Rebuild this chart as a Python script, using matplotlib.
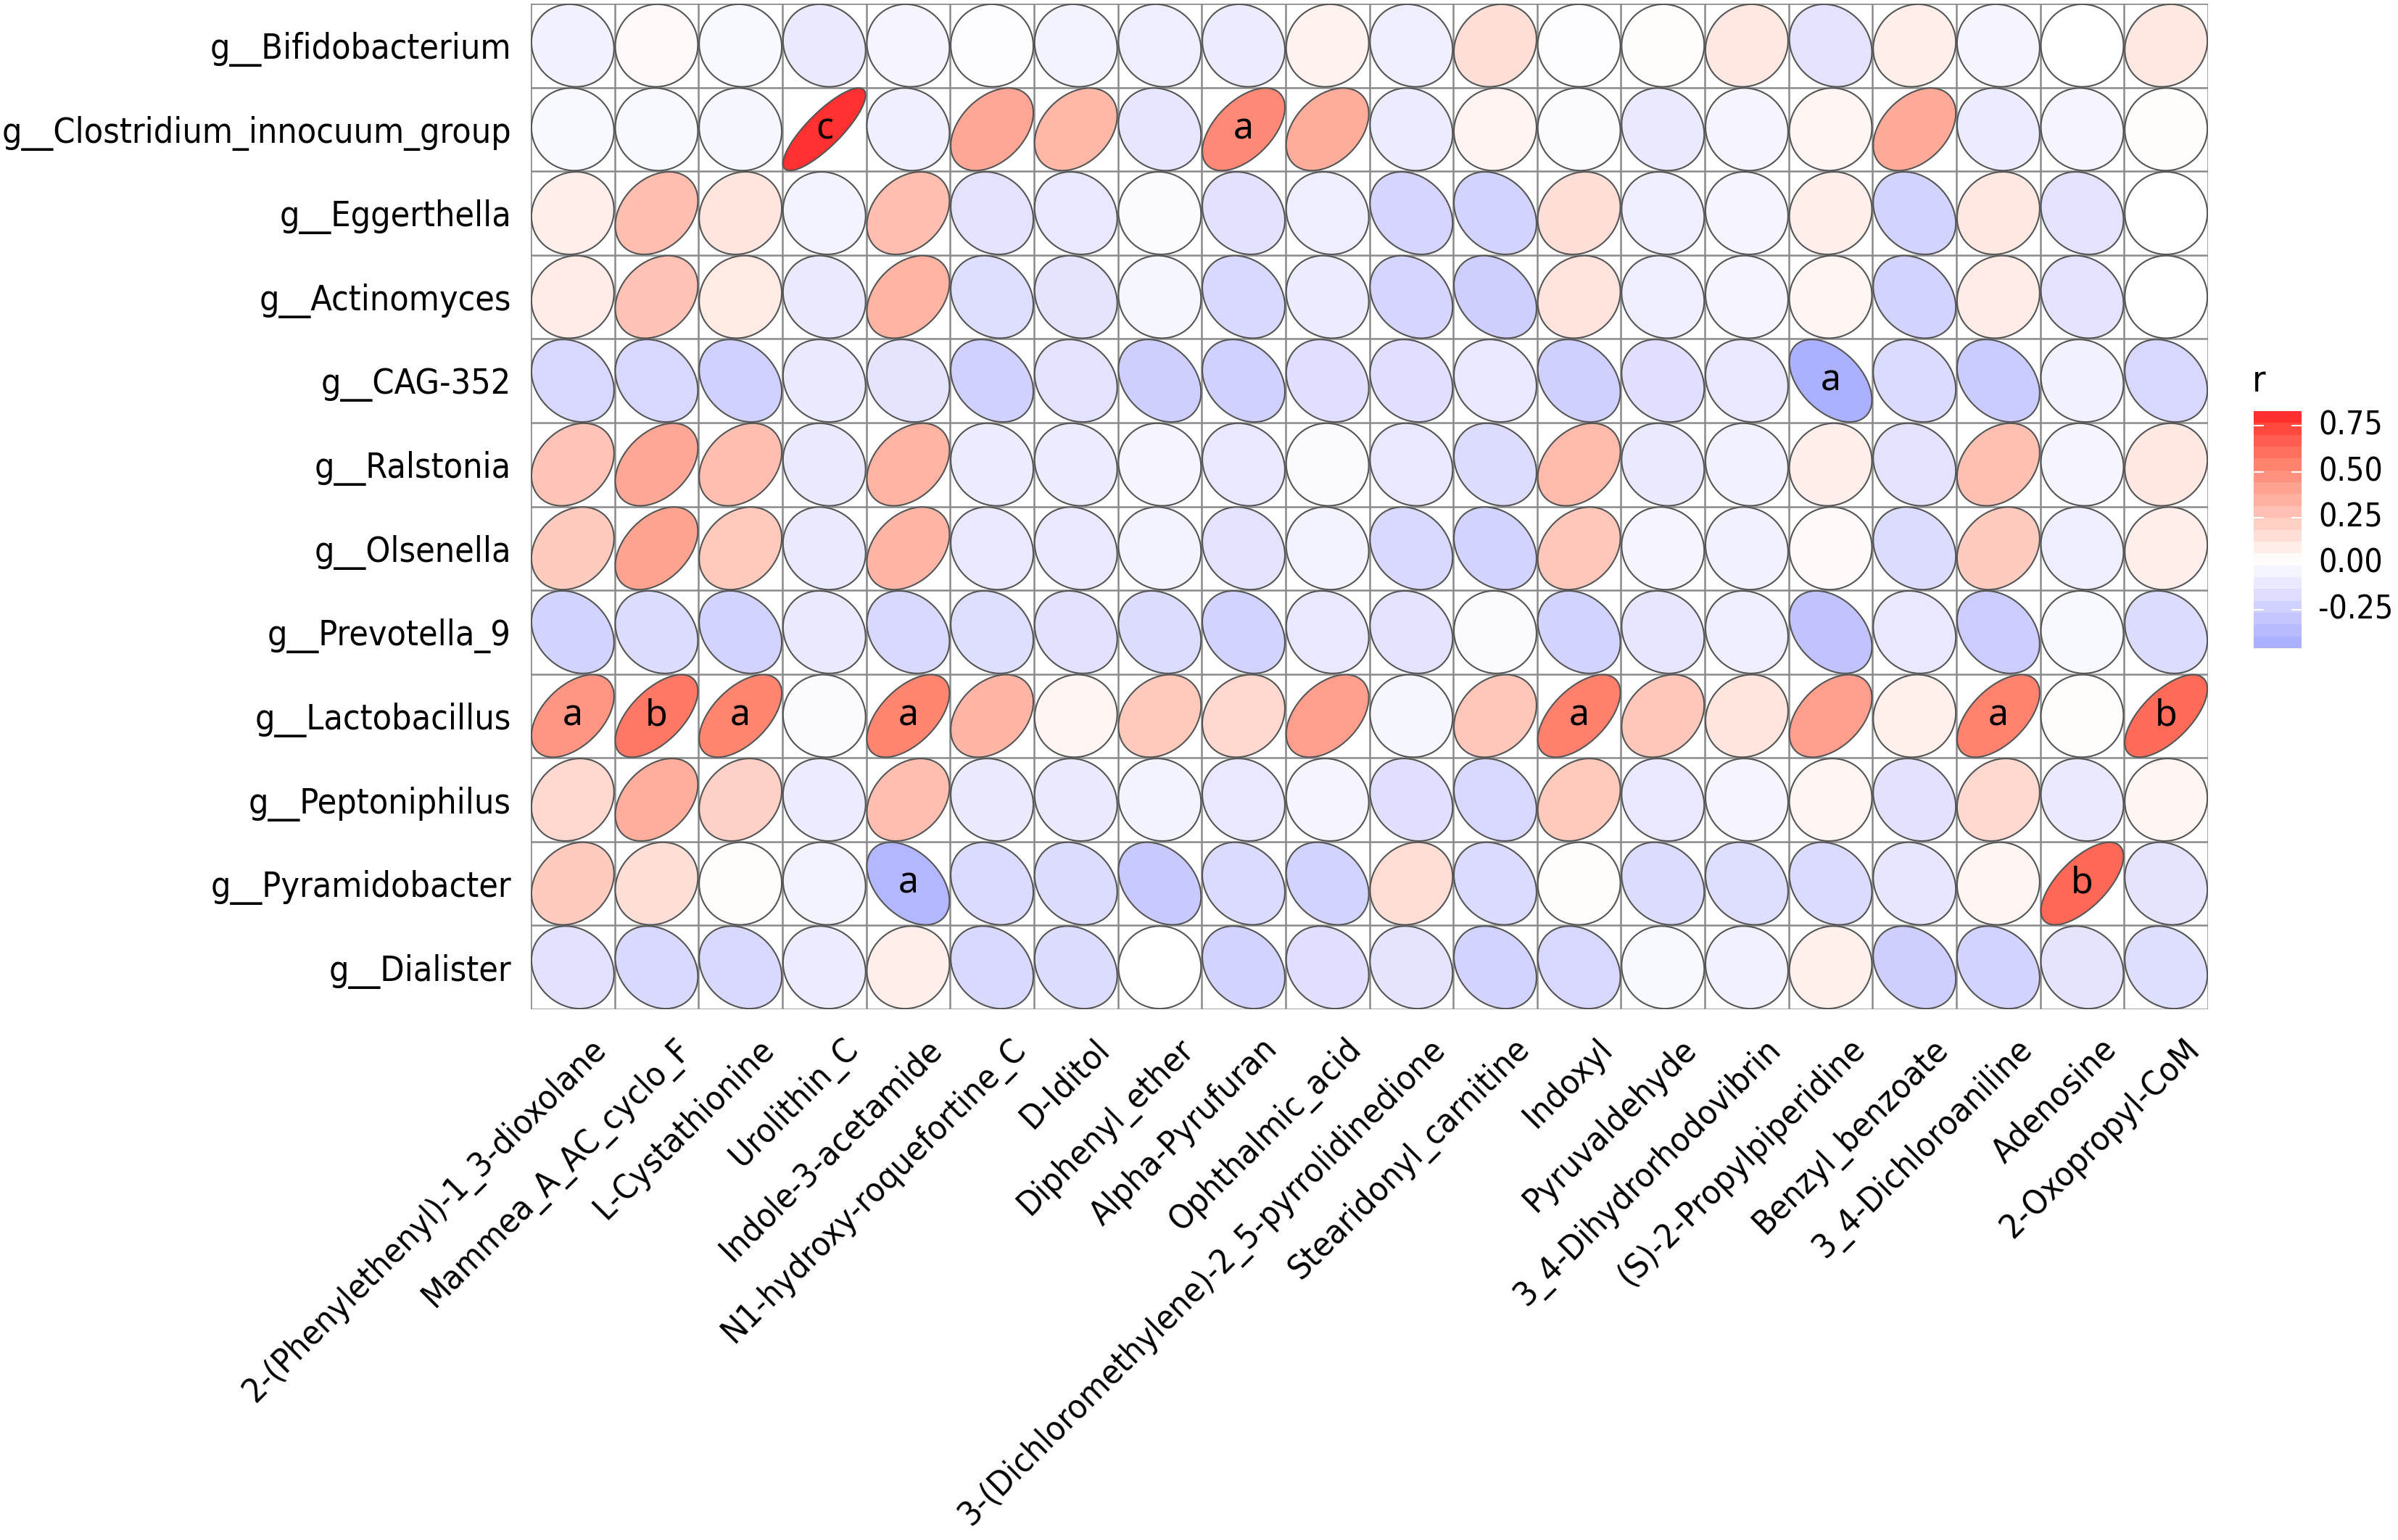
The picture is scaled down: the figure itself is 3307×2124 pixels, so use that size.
import os
import numpy as np
import matplotlib
matplotlib.use("Agg")
import matplotlib.pyplot as plt
from matplotlib import font_manager
from matplotlib.colors import ListedColormap, Normalize, to_rgb
from matplotlib.patches import Polygon
from matplotlib.transforms import ScaledTranslation

# rows (genera) and columns (metabolites)
genera = [
    "g__Bifidobacterium", "g__Clostridium_innocuum_group", "g__Eggerthella",
    "g__Actinomyces", "g__CAG-352", "g__Ralstonia", "g__Olsenella",
    "g__Prevotella_9", "g__Lactobacillus", "g__Peptoniphilus",
    "g__Pyramidobacter", "g__Dialister",
]
metabolites = [
    "2-(Phenylethenyl)-1_3-dioxolane", "Mammea_A_AC_cyclo_F", "L-Cystathionine",
    "Urolithin_C", "Indole-3-acetamide", "N1-hydroxy-roquefortine_C", "D-Iditol",
    "Diphenyl_ether", "Alpha-Pyrufuran", "Ophthalmic_acid",
    "3-(Dichloromethylene)-2_5-pyrrolidinedione", "Stearidonyl_carnitine",
    "Indoxyl", "Pyruvaldehyde", "3_4-Dihydrorhodovibrin",
    "(S)-2-Propylpiperidine", "Benzyl_benzoate", "3_4-Dichloroaniline",
    "Adenosine", "2-Oxopropyl-CoM",
]

# correlation r, one list per genus (same order as metabolites)
r_bifidobacterium = [-0.08, 0.02, -0.04, -0.12, -0.06, -0.01, -0.07, -0.10, -0.11, 0.06,
                     -0.10, 0.15, -0.01, 0.01, 0.11, -0.16, 0.08, -0.06, 0.00, 0.11]
r_clostridium = [-0.04, -0.04, -0.05, 0.83, -0.09, 0.40, 0.33, -0.14, 0.53, 0.38,
                 -0.11, 0.05, -0.03, -0.12, -0.06, 0.04, 0.39, -0.11, -0.06, 0.01]
r_eggerthella = [0.08, 0.30, 0.12, -0.07, 0.30, -0.16, -0.13, -0.03, -0.17, -0.10,
                 -0.24, -0.25, 0.15, -0.10, -0.06, 0.08, -0.25, 0.11, -0.16, 0.00]
r_actinomyces = [0.09, 0.28, 0.10, -0.12, 0.35, -0.19, -0.15, -0.05, -0.22, -0.11,
                 -0.24, -0.28, 0.13, -0.10, -0.06, 0.04, -0.25, 0.09, -0.16, 0.00]
r_cag352 = [-0.23, -0.23, -0.26, -0.12, -0.15, -0.26, -0.16, -0.28, -0.26, -0.18,
            -0.18, -0.13, -0.27, -0.18, -0.13, -0.46, -0.21, -0.30, -0.08, -0.23]
r_ralstonia = [0.27, 0.40, 0.30, -0.12, 0.35, -0.11, -0.11, -0.06, -0.13, -0.02,
               -0.13, -0.20, 0.32, -0.12, -0.08, 0.08, -0.16, 0.29, -0.06, 0.11]
r_olsenella = [0.24, 0.42, 0.25, -0.12, 0.34, -0.13, -0.13, -0.07, -0.16, -0.07,
               -0.22, -0.25, 0.26, -0.06, -0.08, 0.02, -0.20, 0.24, -0.10, 0.08]
r_prevotella = [-0.25, -0.20, -0.25, -0.12, -0.22, -0.19, -0.17, -0.20, -0.25, -0.13,
                -0.16, -0.03, -0.25, -0.14, -0.10, -0.35, -0.13, -0.29, -0.04, -0.20]
r_lactobacillus = [0.48, 0.60, 0.55, -0.03, 0.55, 0.34, 0.04, 0.25, 0.18, 0.44,
                   -0.05, 0.26, 0.57, 0.26, 0.12, 0.44, 0.07, 0.56, 0.01, 0.65]
r_peptoniphilus = [0.18, 0.37, 0.22, -0.11, 0.30, -0.12, -0.12, -0.07, -0.13, -0.06,
                   -0.18, -0.23, 0.25, -0.13, -0.06, 0.04, -0.17, 0.18, -0.12, 0.04]
r_pyramidobacter = [0.24, 0.15, 0.01, -0.07, -0.42, -0.21, -0.20, -0.31, -0.21, -0.25,
                    0.16, -0.21, 0.01, -0.20, -0.19, -0.21, -0.14, 0.04, 0.66, -0.15]
r_dialister = [-0.17, -0.22, -0.22, -0.11, 0.08, -0.22, -0.20, 0.00, -0.25, -0.18,
               -0.15, -0.25, -0.23, -0.04, -0.08, 0.07, -0.28, -0.25, -0.15, -0.19]

r_rows = [r_bifidobacterium, r_clostridium, r_eggerthella, r_actinomyces, r_cag352,
          r_ralstonia, r_olsenella, r_prevotella, r_lactobacillus, r_peptoniphilus,
          r_pyramidobacter, r_dialister]

# significance letters
sig_labels = {
    ("g__Clostridium_innocuum_group", "Urolithin_C"): "c",
    ("g__Clostridium_innocuum_group", "Alpha-Pyrufuran"): "a",
    ("g__CAG-352", "(S)-2-Propylpiperidine"): "a",
    ("g__Lactobacillus", "2-(Phenylethenyl)-1_3-dioxolane"): "a",
    ("g__Lactobacillus", "Mammea_A_AC_cyclo_F"): "b",
    ("g__Lactobacillus", "L-Cystathionine"): "a",
    ("g__Lactobacillus", "Indole-3-acetamide"): "a",
    ("g__Lactobacillus", "Indoxyl"): "a",
    ("g__Lactobacillus", "3_4-Dichloroaniline"): "a",
    ("g__Lactobacillus", "2-Oxopropyl-CoM"): "b",
    ("g__Pyramidobacter", "Indole-3-acetamide"): "a",
    ("g__Pyramidobacter", "Adenosine"): "b",
}

r = np.array(r_rows)
n_rows, n_cols = r.shape

# narrow-ish label font: DejaVu Sans Condensed if it is there
cond = [f.fname for f in font_manager.fontManager.ttflist
        if os.path.basename(f.fname) == "DejaVuSansCondensed.ttf"]
if cond:
    lab_font = font_manager.FontProperties(fname=cond[0])
    y_size, x_size, legend_size, title_size = 11.6, 11.3, 10.7, 12
else:
    lab_font = font_manager.FontProperties(family="DejaVu Sans")
    y_size, x_size, legend_size, title_size = 10.4, 10.1, 9.6, 11


def fp(size):
    p = lab_font.copy()
    p.set_size(size)
    return p


# Lab interpolation, like ggplot's gradient2 (low / white / high)
M = np.array([[0.4124564, 0.3575761, 0.1804375],
              [0.2126729, 0.7151522, 0.0721750],
              [0.0193339, 0.1191920, 0.9503041]])
WHITE = M @ np.ones(3)


def rgb_to_lab(rgb):
    c = np.asarray(rgb, float)
    lin = np.where(c <= 0.04045, c / 12.92, ((c + 0.055) / 1.055) ** 2.4)
    xyz = M @ lin / WHITE
    f = np.where(xyz > (6 / 29) ** 3, np.cbrt(xyz), xyz / (3 * (6 / 29) ** 2) + 4 / 29)
    return np.array([116 * f[1] - 16, 500 * (f[0] - f[1]), 200 * (f[1] - f[2])])


def lab_to_rgb(lab):
    L, a, b = lab
    fy = (L + 16) / 116
    f = np.array([fy + a / 500, fy, fy - b / 200])
    xyz = np.where(f > 6 / 29, f ** 3, 3 * (6 / 29) ** 2 * (f - 4 / 29)) * WHITE
    lin = np.clip(np.linalg.solve(M, xyz), 0, None)
    c = np.where(lin <= 0.0031308, 12.92 * lin, 1.055 * lin ** (1 / 2.4) - 0.055)
    return np.clip(c, 0, 1)


lab_low = rgb_to_lab(to_rgb("#4876FF"))
lab_mid = rgb_to_lab(to_rgb("white"))
lab_high = rgb_to_lab(to_rgb("#FF3030"))
colors = []
for p in np.linspace(0, 1, 512):
    if p < 0.5:
        t = (0.5 - p) / 0.5
        colors.append(lab_to_rgb(lab_mid + (lab_low - lab_mid) * t))
    else:
        t = (p - 0.5) / 0.5
        colors.append(lab_to_rgb(lab_mid + (lab_high - lab_mid) * t))
cmap = ListedColormap(colors)
m = np.abs(r).max()
norm = Normalize(-m, m)

fig = plt.figure(figsize=(3307 / 300, 2124 / 300), dpi=300)
ax = fig.add_axes([732 / 3307, 1 - 1392 / 2124, (3045 - 732) / 3307, (1392 - 5) / 2124])
ax.set_xlim(-0.5, n_cols - 0.5)
ax.set_ylim(-0.5, n_rows - 0.5)

# grid
for x in np.arange(-0.5, n_cols, 1.0):
    ax.axvline(x, color="#8a8a8a", lw=0.6, zorder=1)
for y in np.arange(-0.5, n_rows, 1.0):
    ax.axhline(y, color="#8a8a8a", lw=0.6, zorder=1)

# ellipses (corrplot style)
k = np.linspace(0, 2 * np.pi, 120)
for i, g in enumerate(genera):
    yc = n_rows - 1 - i
    for j, met in enumerate(metabolites):
        rho = r[i, j]
        a = np.arccos(rho) / 2
        dx = np.cos(k + a) / 2 * 0.985
        dy = np.cos(k - a) / 2 * 0.985
        poly = Polygon(np.column_stack([j + dx, yc + dy]), closed=True,
                       facecolor=cmap(norm(rho)), edgecolor="#555555", lw=0.5, zorder=2)
        ax.add_patch(poly)
        lab = sig_labels.get((g, met))
        if lab:
            ax.text(j, yc, lab, ha="center", va="center", fontsize=12,
                    family="Noto Sans", color="black", zorder=3)

for s in ax.spines.values():
    s.set_visible(False)

ax.set_yticks(np.arange(n_rows))
ax.set_yticklabels(genera[::-1], fontproperties=fp(y_size))
ax.tick_params(axis="y", length=0, pad=6.5)
ax.set_xticks([])

off = ScaledTranslation(24 / 300, -32 / 300, fig.dpi_scale_trans)
for j, met in enumerate(metabolites):
    ax.text(j, -0.5, met, rotation=45, ha="right", va="top", rotation_mode="anchor",
            fontproperties=fp(x_size), transform=ax.transData + off, clip_on=False)

# colorbar
vmin_d, vmax_d = r.min(), r.max()
cax = fig.add_axes([3108 / 3307, 1 - 894 / 2124, 66 / 3307, 327 / 2124])
grad = np.linspace(vmin_d, vmax_d, 20)[:, None]
cax.imshow(grad, cmap=cmap, norm=norm, aspect="auto", origin="lower",
           extent=[0, 1, vmin_d, vmax_d], interpolation="nearest")
cax.set_xlim(0, 1)
cax.set_ylim(vmin_d, vmax_d)
for s in cax.spines.values():
    s.set_visible(False)
cax.set_xticks([])
cax.set_yticks([])
for t in [-0.25, 0.0, 0.25, 0.50, 0.75]:
    cax.plot([0, 0.2], [t, t], color="white", lw=0.5)
    cax.plot([0.8, 1], [t, t], color="white", lw=0.5)
    cax.text(1.35, t, f"{t:.2f}", ha="left", va="center", fontproperties=fp(legend_size),
             clip_on=False)
fig.text(3106 / 3307, 1 - 540 / 2124, "r", ha="left", va="baseline",
         fontproperties=fp(title_size))

fig.savefig("out.png", dpi=300)
